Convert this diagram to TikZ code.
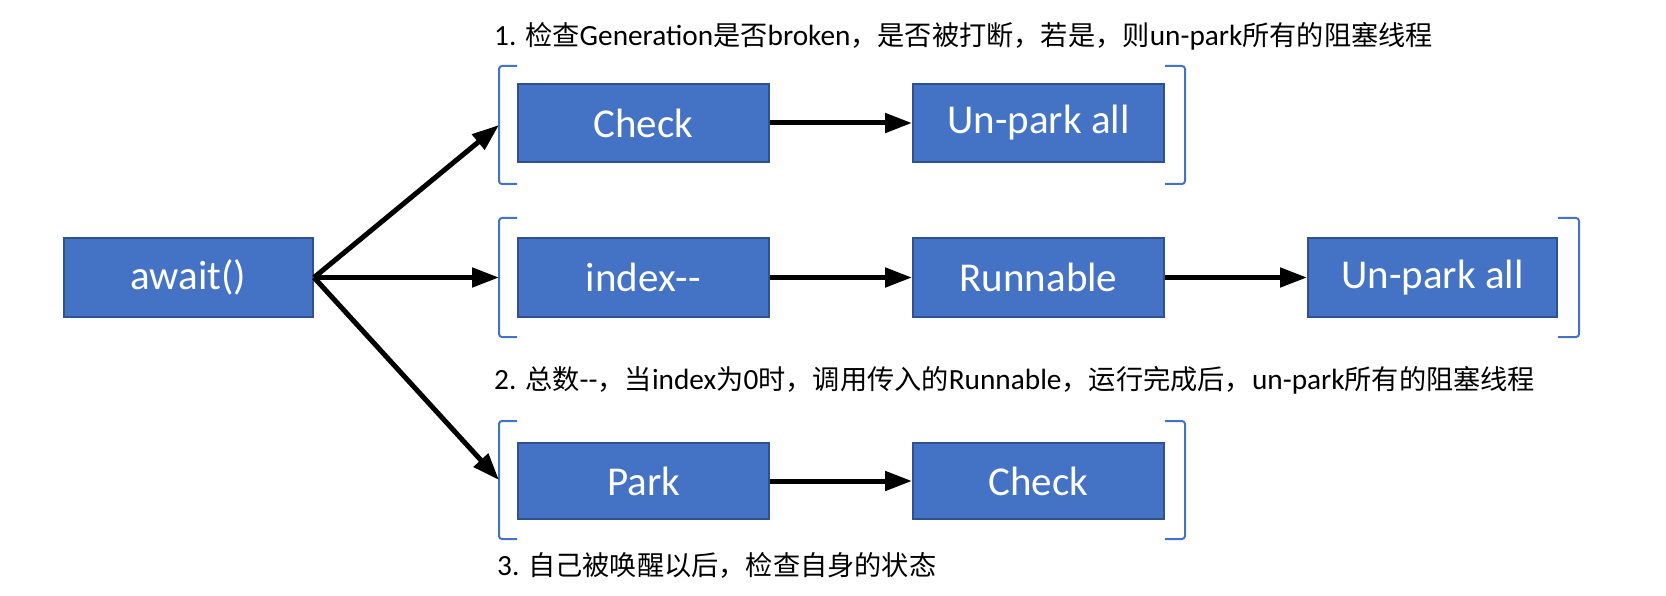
\documentclass[tikz,border=0pt]{standalone}
\usepackage{fontspec}
\setmainfont{Carlito}
\newfontfamily\cjk{Noto Sans CJK SC}
\usetikzlibrary{arrows.meta}
\definecolor{boxfill}{HTML}{4472C4}
\definecolor{boxedge}{HTML}{2F528F}
\definecolor{brkcol}{HTML}{4472C4}
\newcommand{\zh}[1]{{\cjk\fontsize{27.2}{32}\selectfont #1}}
\newcommand{\dd}{\mbox{-}\mbox{-}}
\begin{document}
\begin{tikzpicture}[x=1pt,y=-1pt,
  box/.style={draw=boxedge, line width=2pt, fill=boxfill, text=white,
    font=\fontsize{41}{46}\selectfont, minimum height=78pt, inner sep=0pt},
  arr/.style={line width=5pt, -{Triangle[length=27pt,width=19pt]}},
  brk/.style={draw=brkcol, line width=2pt, rounded corners=3pt},
  lbl/.style={anchor=west, inner sep=0pt, font=\fontsize{29.3}{34}\selectfont}]
\useasboundingbox (0,0) rectangle (1666,596);

% boxes
\node[box, minimum width=249pt] (await) at (188.5,277.5) {await()};
\node[box, minimum width=251pt] (check1) at (643.5,123) {Check};
\node[box, minimum width=251pt] (unpark1) at (1038.5,123) {Un-park all};
\node[box, minimum width=251pt, minimum height=79pt] (index) at (643.5,277.5) {index\dd};
\node[box, minimum width=251pt, minimum height=79pt] (runnable) at (1038.5,277.5) {Runnable};
\node[box, minimum width=249pt, minimum height=79pt] (unpark2) at (1432.5,277.5) {Un-park all};
\node[box, minimum width=251pt, minimum height=76pt] (park) at (643.5,481) {Park};
\node[box, minimum width=251pt, minimum height=76pt] (check2) at (1038.5,481) {Check};

% brackets
\draw[brk] (517,66) -- (499,66) -- (499,184) -- (517,184);
\draw[brk] (1165,66) -- (1185,66) -- (1185,184) -- (1165,184);
\draw[brk] (517,218) -- (499,218) -- (499,337) -- (517,337);
\draw[brk] (1558,218) -- (1579,218) -- (1579,337) -- (1558,337);
\draw[brk] (517,421) -- (499,421) -- (499,539) -- (517,539);
\draw[brk] (1165,421) -- (1185,421) -- (1185,539) -- (1165,539);

\coordinate (b1) at (499,125);
\coordinate (b2) at (499,277.5);
\coordinate (b3) at (499,480);

% arrows
\draw[arr] (await.east) -- (b1);
\draw[arr] (await.east) -- (b2);
\draw[arr] (await.east) -- (b3);
\draw[arr] (check1) -- (unpark1);
\draw[arr] (index) -- (runnable);
\draw[arr] (runnable) -- (unpark2);
\draw[arr] (park) -- (check2);

% labels
\node[lbl] (t1) at (494,36) {1. \zh{检查}Generation\zh{是否}broken\zh{，是否被打断，若是，则}un-park\zh{所有的阻塞线程}};
\node[lbl] (t2) at (494,380) {2. \zh{总数}\dd\zh{，当}index\zh{为}0\zh{时，调用传入的}Runnable\zh{，运行完成后，}un-park\zh{所有的阻塞线程}};
\node[lbl] (t3) at (497,565) {3. \zh{自己被唤醒以后，检查自身的状态}};
\end{tikzpicture}
\end{document}
